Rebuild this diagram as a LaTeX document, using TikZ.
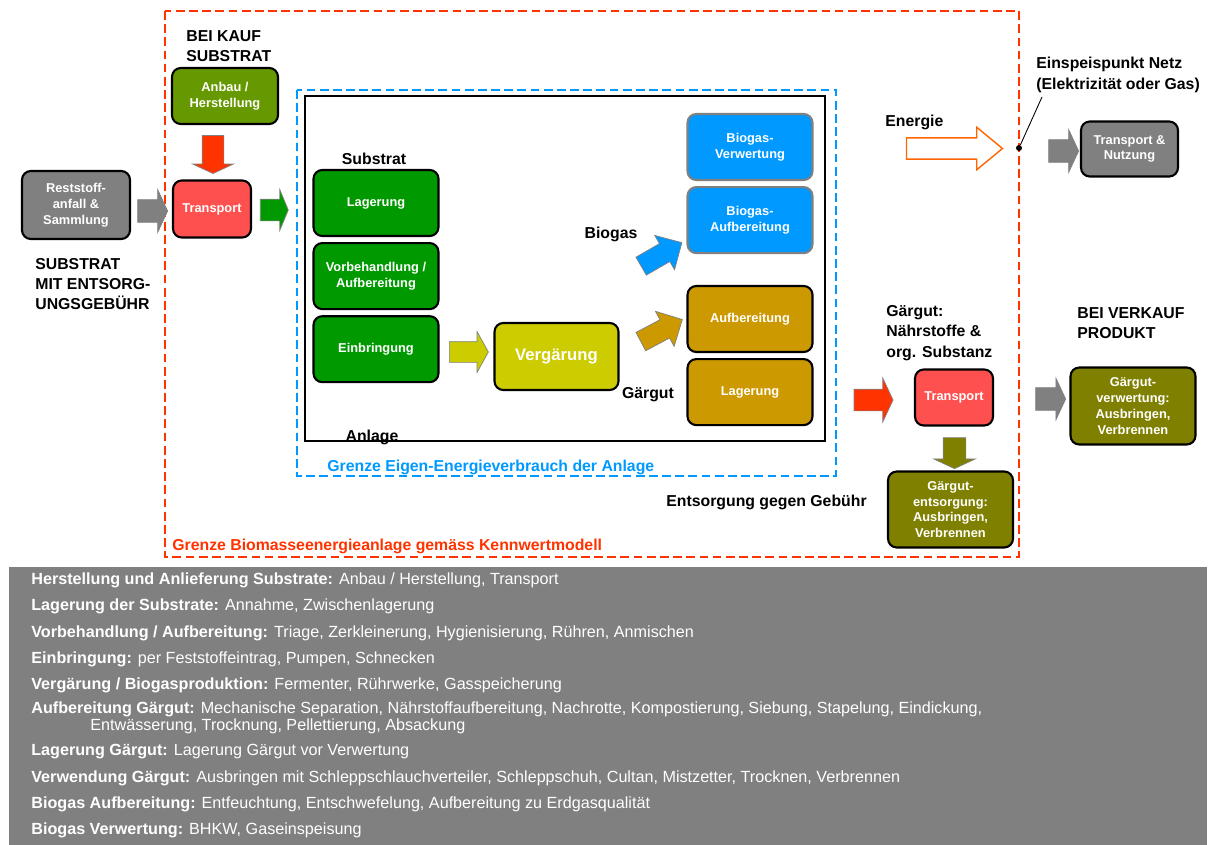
\documentclass[tikz,border=0pt]{standalone}
\usepackage{fontspec}
\setmainfont{Liberation Sans}
\usetikzlibrary{shapes.arrows, positioning}

\definecolor{grau}{HTML}{808080}
\definecolor{anbaugruen}{HTML}{669900}
\definecolor{transportrot}{HTML}{FF5050}
\definecolor{pfeilrot}{HTML}{FF3300}
\definecolor{gruen}{HTML}{009900}
\definecolor{gelb}{HTML}{CCCC00}
\definecolor{blau}{HTML}{0099FF}
\definecolor{braun}{HTML}{CC9900}
\definecolor{oliv}{HTML}{808000}
\definecolor{energieorange}{HTML}{FF6600}

\begin{document}
\begin{tikzpicture}[
  x=0.02cm, y=-0.02cm,
  box/.style={rectangle, draw=black, line width=1.2pt, rounded corners=5pt, align=center, text=white, font=\fontsize{7.3}{9}\selectfont\bfseries, inner sep=1pt},
  lbl/.style={font=\fontsize{9}{11.5}\selectfont\bfseries, align=left, inner sep=0pt},
  blockarrow/.style={single arrow, draw=grau, line width=0.4pt, inner xsep=0pt, inner ysep=0.21cm, single arrow tip angle=130},
  legend/.style={anchor=west, inner sep=0pt, text=white, font=\fontsize{9.2}{11}\selectfont}
]
  \useasboundingbox (0,0) rectangle (1211,845);

  % Grenzen
  \draw[pfeilrot, line width=1.1pt, dash pattern=on 5pt off 2.5pt] (165,11) rectangle (1019,557);
  \draw[blau, line width=0.9pt, dash pattern=on 5pt off 2.5pt] (297,90) rectangle (836,476);
  \draw[black, line width=1.2pt] (305,96) rectangle (825,441);

  % Substratseite
  \node[box, fill=grau, minimum width=2.16cm, minimum height=1.36cm] (rest) at (76,205) {Reststoff-\\anfall \&\\Sammlung};
  \node[box, fill=anbaugruen, minimum width=2.12cm, minimum height=1.12cm] (anbau) at (225,96) {Anbau /\\Herstellung};
  \node[box, fill=transportrot, minimum width=1.56cm, minimum height=1.14cm] (trans1) at (212,209) {Transport};

  \node[blockarrow, fill=grau, draw=grau, minimum height=0.6cm, minimum width=0.84cm, inner ysep=0.22cm, single arrow head extend=0.2cm] (pf1) at (150,211) {};
  \node[blockarrow, fill=pfeilrot, rotate=-90, minimum height=0.76cm, minimum width=0.8cm, single arrow head extend=0.19cm] (pf2) at (213,152) {};
  \node[blockarrow, fill=gruen, minimum height=0.56cm, minimum width=0.8cm, single arrow head extend=0.19cm, single arrow tip angle=135] (pf3) at (272,210) {};

  \node[lbl, anchor=west] (kauf) at (186,46) {BEI KAUF\\SUBSTRAT};
  \node[lbl, anchor=west] (entsgeb) at (35,284) {SUBSTRAT\\MIT ENTSORG-\\UNGSGEBÜHR};

  % Anlage
  \node[box, fill=gruen, minimum width=2.5cm, minimum height=1.32cm] (lager1) at (376,203) {Lagerung};
  \node[box, fill=gruen, minimum width=2.5cm, minimum height=1.32cm, below=0.1cm of lager1] (vorbeh) {Vorbehandlung /\\Aufbereitung};
  \node[box, fill=gruen, minimum width=2.5cm, minimum height=1.32cm, below=0.1cm of vorbeh] (einbr) {Einbringung};
  \node[box, fill=gelb, minimum width=2.48cm, minimum height=1.34cm, font=\fontsize{9.5}{11}\selectfont\bfseries] (verg) at (556.5,356.5) {Vergärung};

  \node[box, fill=blau, draw=grau, minimum width=2.5cm, minimum height=1.32cm] (bverw) at (750,147) {Biogas-\\Verwertung};
  \node[box, fill=blau, draw=grau, minimum width=2.5cm, minimum height=1.32cm, below=0.1cm of bverw] (baufb) {Biogas-\\Aufbereitung};
  \node[box, fill=braun, minimum width=2.5cm, minimum height=1.32cm] (gaufb) at (750,319) {Aufbereitung};
  \node[box, fill=braun, minimum width=2.5cm, minimum height=1.32cm, below=0.1cm of gaufb] (glager) {Lagerung};

  \node[blockarrow, fill=gelb, minimum height=0.78cm, minimum width=0.8cm, inner ysep=0.2cm, single arrow head extend=0.2cm, single arrow tip angle=122] (pf4) at (466,352) {};
  \node[blockarrow, fill=blau, rotate=30, minimum height=0.94cm, minimum width=0.78cm, inner ysep=0.2cm, single arrow head extend=0.19cm, single arrow tip angle=90] (pf5) at (657,257) {};
  \node[blockarrow, fill=braun, rotate=28, minimum height=0.94cm, minimum width=0.78cm, inner ysep=0.2cm, single arrow head extend=0.19cm, single arrow tip angle=90] (pf6) at (657,333) {};

  \node[lbl] (substrat) at (374,159) {Substrat};
  \node[lbl] (anlage) at (372,437) {Anlage};
  \node[lbl] (biogas) at (611,234) {Biogas};
  \node[lbl] (gaergut) at (648,395) {Gärgut};
  \node[lbl, anchor=west, text=blau] (grenzeeigen) at (327,467) {Grenze Eigen-Energieverbrauch der Anlage};
  \node[lbl, anchor=west, text=pfeilrot] (grenzebio) at (172,546) {Grenze Biomasseenergieanlage gemäss Kennwertmodell};

  % Energie
  \node[lbl, anchor=west] (energie) at (885,122) {Energie};
  \node[single arrow, draw=energieorange, fill=white, line width=0.8pt, inner xsep=0pt, inner ysep=0.2cm, minimum height=1.92cm, minimum width=0.82cm, single arrow head extend=0.21cm, single arrow tip angle=79] (pf7) at (948,148.5) {};
  \node[circle, fill=black, inner sep=0pt, minimum size=0.12cm] (dot) at (1019,148) {};
  \coordinate (netzende) at (1042,97);
  \draw[black, line width=0.5pt] (dot) -- (netzende);
  \node[lbl, anchor=west] (netz) at (1036,75) {Einspeispunkt Netz\\(Elektrizität oder Gas)};
  \node[blockarrow, fill=grau, minimum height=0.6cm, minimum width=0.84cm, inner ysep=0.22cm, single arrow head extend=0.2cm] (pf8) at (1061,151) {};
  \node[box, fill=grau, minimum width=1.94cm, minimum height=1.1cm] (tnutz) at (1129.5,149) {Transport \&\\Nutzung};

  % Gaergut
  \node[lbl, anchor=west] (naehr) at (886,333) {Gärgut:\\Nährstoffe \&\\org. Substanz};
  \node[blockarrow, fill=pfeilrot, minimum height=0.78cm, minimum width=0.86cm, single arrow head extend=0.22cm] (pf9) at (871,400) {};
  \node[box, fill=transportrot, minimum width=1.56cm, minimum height=1.12cm] (trans2) at (954,397.5) {Transport};
  \node[blockarrow, fill=oliv, rotate=-90, minimum height=0.62cm, minimum width=0.82cm, inner ysep=0.22cm, single arrow head extend=0.19cm] (pf10) at (954.5,450.5) {};
  \node[box, fill=oliv, minimum width=2.5cm, minimum height=1.52cm] (entsorg) at (950.5,509.5) {Gärgut-\\entsorgung:\\Ausbringen,\\Verbrennen};
  \node[lbl, anchor=west] (gebuehr) at (666,502) {Entsorgung gegen Gebühr};

  \node[lbl, anchor=west] (verkauf) at (1077,323) {BEI VERKAUF\\PRODUKT};
  \node[blockarrow, fill=grau, minimum height=0.6cm, minimum width=0.8cm, inner ysep=0.22cm, single arrow head extend=0.19cm] (pf11) at (1048,399) {};
  \node[box, fill=oliv, minimum width=2.5cm, minimum height=1.54cm] (verwert) at (1133,406) {Gärgut-\\verwertung:\\Ausbringen,\\Verbrennen};

  % Legende
  \fill[grau] (9,567) rectangle (1207,845);
  \node[legend] (l1) at (31,580) {\textbf{Herstellung und Anlieferung Substrate:} Anbau / Herstellung, Transport};
  \node[legend] (l2) at (31,606) {\textbf{Lagerung der Substrate:} Annahme, Zwischenlagerung};
  \node[legend] (l3) at (31,633) {\textbf{Vorbehandlung / Aufbereitung:} Triage, Zerkleinerung, Hygienisierung, Rühren, Anmischen};
  \node[legend] (l4) at (31,659) {\textbf{Einbringung:} per Feststoffeintrag, Pumpen, Schnecken};
  \node[legend] (l5) at (31,685) {\textbf{Vergärung / Biogasproduktion:} Fermenter, Rührwerke, Gasspeicherung};
  \node[legend] (l6) at (31,709) {\textbf{Aufbereitung Gärgut:} Mechanische Separation, Nährstoffaufbereitung, Nachrotte, Kompostierung, Siebung, Stapelung, Eindickung,};
  \node[legend] (l6b) at (90,726) {Entwässerung, Trocknung, Pellettierung, Absackung};
  \node[legend] (l7) at (31,752) {\textbf{Lagerung Gärgut:} Lagerung Gärgut vor Verwertung};
  \node[legend] (l8) at (31,778) {\textbf{Verwendung Gärgut:} Ausbringen mit Schleppschlauchverteiler, Schleppschuh, Cultan, Mistzetter, Trocknen, Verbrennen};
  \node[legend] (l9) at (31,804) {\textbf{Biogas Aufbereitung:} Entfeuchtung, Entschwefelung, Aufbereitung zu Erdgasqualität};
  \node[legend] (l10) at (31,830) {\textbf{Biogas Verwertung:} BHKW, Gaseinspeisung};
\end{tikzpicture}
\end{document}
